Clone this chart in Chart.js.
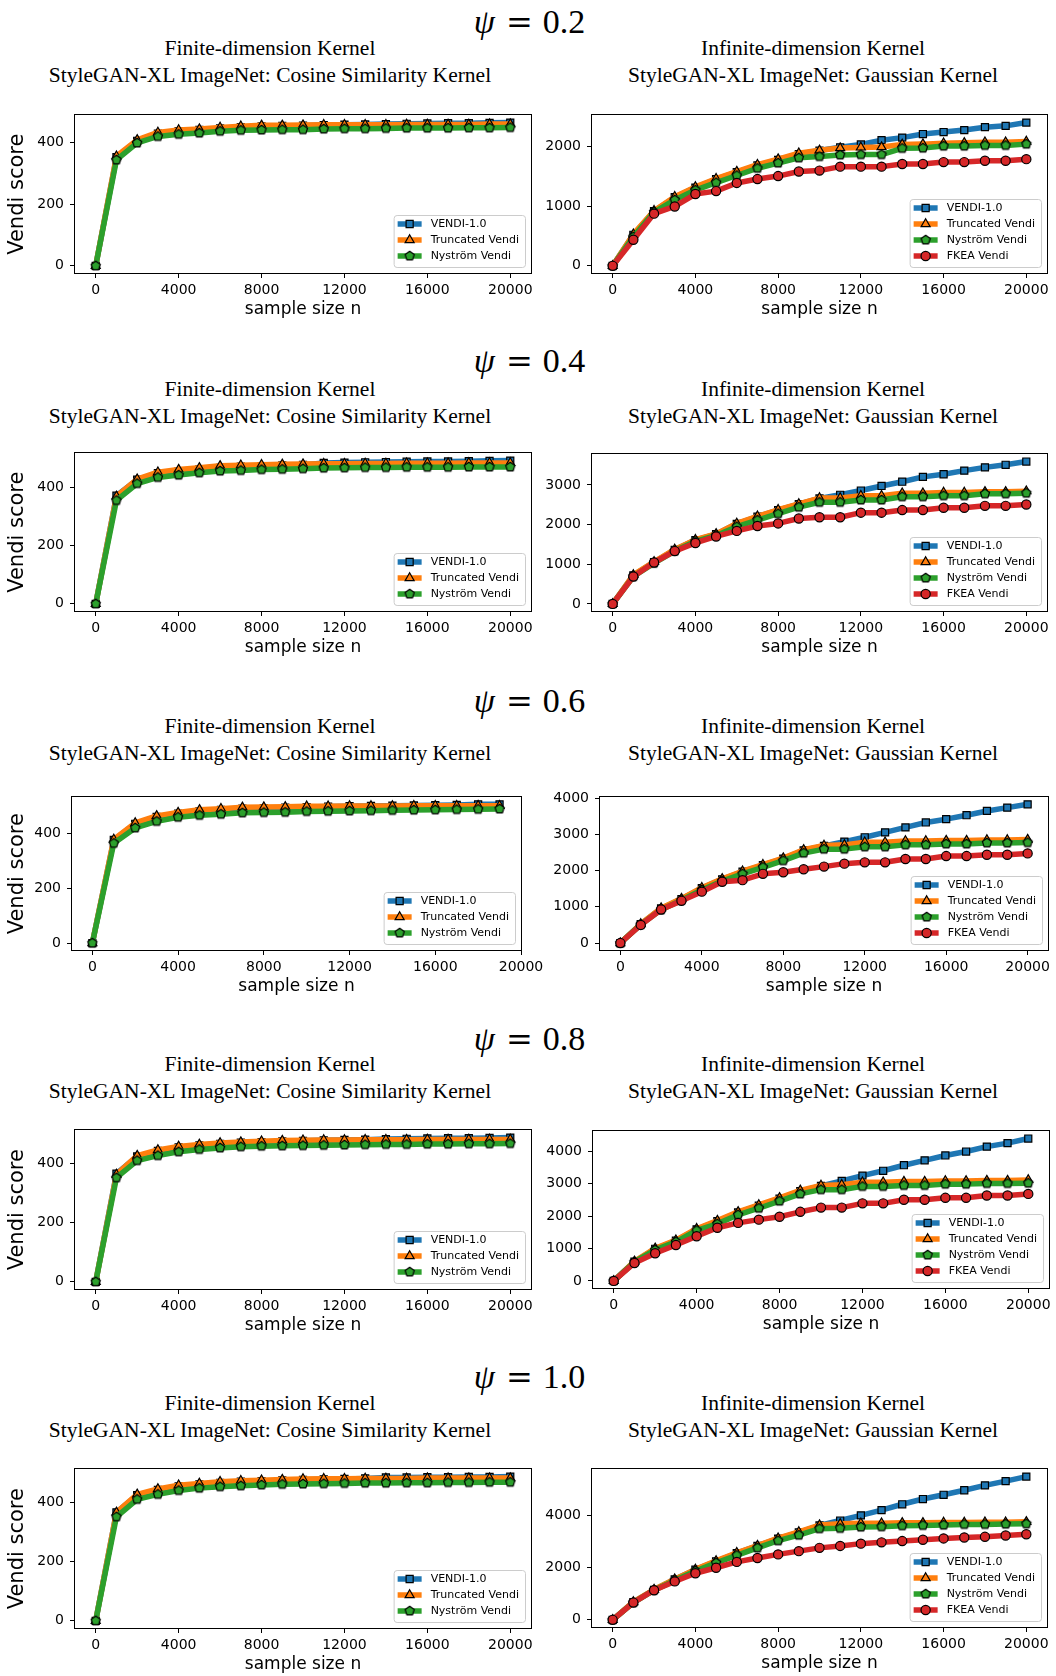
<!DOCTYPE html>
<html>
<head>
<meta charset="utf-8">
<script src="https://cdn.jsdelivr.net/npm/chart.js@4.4.1/dist/chart.umd.min.js"></script>
<style>
  body { margin: 0; background: #fff; }
  #page { position: relative; width: 1056px; height: 1676px; overflow: hidden; background: #fff; }
  #page canvas { position: absolute; }
  .psi { position: absolute; width: 400px; text-align: center; font-family: "Liberation Serif", serif; font-size: 34px; line-height: 34px; white-space: nowrap; color: #000; }
  .psi i { font-style: italic; }
  .psi .eq { font-family: "DejaVu Serif", serif; font-size: 32px; margin: 0 10px 0 11px; }
  .ttl { position: absolute; width: 600px; text-align: center; font-family: "Liberation Serif", serif; font-size: 21.5px; line-height: 27px; white-space: nowrap; color: #000; }
</style>
</head>
<body>
<div id="page"></div>
<script>
// sample sizes (x)
const sampleSizes = [0, 1000, 2000, 3000, 4000, 5000, 6000, 7000, 8000, 9000, 10000,
  11000, 12000, 13000, 14000, 15000, 16000, 17000, 18000, 19000, 20000];
const sampleSizesShort = [0, 1000, 2000, 3000, 4000, 5000, 6000, 7000, 8000, 9000, 10000,
  11000, 12000, 13000, 14000, 15000, 16000, 17000, 18000, 19000];

const seriesNames = ['VENDI-1.0', 'Truncated Vendi', 'Nyström Vendi', 'FKEA Vendi'];
const seriesColors = ['#1f77b4', '#ff7f0e', '#2ca02c', '#d62728'];
const psiValues = ['0.2', '0.4', '0.6', '0.8', '1.0'];
const cosTitle = ['Finite-dimension Kernel', 'StyleGAN-XL ImageNet: Cosine Similarity Kernel'];
const gaussTitle = ['Infinite-dimension Kernel', 'StyleGAN-XL ImageNet: Gaussian Kernel'];

// tick labels
const xTicks = [0, 4000, 8000, 12000, 16000, 20000];
const cosYTicks = [0, 200, 400];
const gaussYTicks02 = [0, 1000, 2000];
const gaussYTicks04 = [0, 1000, 2000, 3000];
const gaussYTicks06 = [0, 1000, 2000, 3000, 4000];
const gaussYTicks08 = [0, 1000, 2000, 3000, 4000];
const gaussYTicks10 = [0, 2000, 4000];

// psi = 0.2
const cosVendi02 = [0, 352, 405, 428, 436, 440, 445, 449, 452, 453, 454, 456, 457, 458, 459, 460, 461, 462, 462, 463, 464];
const cosTrunc02 = [0, 355, 408, 432, 440, 443, 448, 452, 455, 455, 456, 457, 457, 457, 457, 458, 458, 458, 458, 459, 459];
const cosNys02 = [0, 343, 398, 419, 426, 430, 436, 439, 440, 441, 441, 443, 444, 444, 445, 446, 446, 446, 447, 447, 448];
const gaussVendi02 = [0, 520, 915, 1150, 1310, 1450, 1570, 1680, 1775, 1870, 1930, 1985, 2033, 2104, 2147, 2207, 2240, 2273, 2322, 2344, 2399];
const gaussTrunc02 = [0, 530, 923, 1158, 1322, 1459, 1579, 1694, 1787, 1885, 1934, 1972, 1983, 1989, 2033, 2038, 2054, 2060, 2071, 2071, 2082];
const gaussNys02 = [0, 486, 901, 1104, 1268, 1393, 1513, 1634, 1721, 1808, 1830, 1857, 1863, 1863, 1967, 1972, 2005, 2005, 2016, 2016, 2038];
const gaussFkea02 = [0, 437, 874, 994, 1202, 1251, 1388, 1453, 1503, 1579, 1595, 1661, 1661, 1661, 1705, 1705, 1737, 1737, 1759, 1759, 1786];

// psi = 0.4
const cosVendi04 = [0, 372, 427, 450, 457, 463, 468, 472, 474, 476, 478, 485, 486, 487, 488, 489, 490, 490, 491, 492, 493];
const cosTrunc04 = [0, 370, 429, 453, 462, 468, 475, 477, 479, 480, 481, 482, 482, 483, 483, 484, 484, 484, 485, 485, 485];
const cosNys04 = [0, 356, 414, 435, 443, 451, 457, 459, 462, 463, 465, 467, 468, 469, 469, 470, 470, 470, 471, 471, 471];
const gaussVendi04 = [0, 720, 1055, 1365, 1610, 1760, 2020, 2200, 2365, 2515, 2660, 2753, 2860, 2975, 3082, 3205, 3271, 3362, 3444, 3510, 3592];
const gaussTrunc04 = [0, 731, 1060, 1373, 1619, 1767, 2030, 2211, 2375, 2523, 2671, 2671, 2729, 2729, 2794, 2794, 2811, 2811, 2827, 2827, 2844];
const gaussNys04 = [0, 690, 1027, 1332, 1578, 1726, 1948, 2112, 2277, 2441, 2564, 2564, 2622, 2622, 2704, 2704, 2729, 2729, 2778, 2778, 2794];
const gaussFkea04 = [0, 690, 1044, 1332, 1537, 1701, 1841, 1964, 2030, 2153, 2186, 2186, 2301, 2301, 2367, 2367, 2425, 2425, 2474, 2474, 2507];

// psi = 0.6 (cosine run stops at 19000)
const cosVendi06 = [0, 376, 435, 460, 472, 481, 486, 490, 492, 494, 496, 498, 499, 500, 501, 502, 503, 504, 506, 506];
const cosTrunc06 = [0, 378, 438, 464, 476, 486, 490, 495, 496, 497, 499, 499, 500, 500, 500, 501, 501, 501, 501, 501];
const cosNys06 = [0, 364, 420, 444, 459, 466, 470, 475, 476, 477, 480, 481, 482, 483, 484, 485, 486, 487, 488, 489];
const gaussVendi06 = [0, 520, 955, 1215, 1515, 1760, 1970, 2150, 2330, 2560, 2680, 2800, 2918, 3054, 3190, 3327, 3418, 3527, 3645, 3736, 3827];
const gaussTrunc06 = [0, 527, 964, 1227, 1527, 1773, 1982, 2163, 2345, 2573, 2691, 2709, 2782, 2782, 2818, 2818, 2827, 2827, 2845, 2845, 2854];
const gaussNys06 = [0, 509, 918, 1182, 1464, 1709, 1909, 2091, 2273, 2482, 2591, 2591, 2654, 2654, 2709, 2709, 2736, 2736, 2763, 2763, 2772];
const gaussFkea06 = [0, 500, 927, 1164, 1418, 1691, 1736, 1909, 1954, 2036, 2109, 2191, 2227, 2227, 2318, 2318, 2400, 2400, 2436, 2436, 2473];

// psi = 0.8
const cosVendi08 = [0, 367, 425, 444, 456, 463, 468, 472, 474, 476, 478, 480, 481, 482, 484, 485, 486, 487, 487, 488, 489];
const cosTrunc08 = [0, 364, 428, 447, 459, 466, 471, 474, 477, 479, 480, 481, 481, 482, 482, 482, 483, 483, 483, 483, 483];
const cosNys08 = [0, 353, 411, 428, 441, 449, 454, 458, 460, 461, 462, 463, 464, 465, 466, 466, 467, 467, 468, 468, 469];
const gaussVendi08 = [0, 590, 990, 1240, 1590, 1840, 2110, 2320, 2540, 2770, 2930, 3085, 3246, 3397, 3568, 3719, 3869, 3990, 4141, 4251, 4392];
const gaussTrunc08 = [0, 603, 1005, 1256, 1608, 1859, 2131, 2342, 2563, 2794, 2945, 2965, 3045, 3045, 3065, 3065, 3085, 3085, 3095, 3095, 3116];
const gaussNys08 = [0, 583, 955, 1206, 1558, 1759, 2040, 2241, 2462, 2683, 2814, 2814, 2915, 2915, 2945, 2945, 2985, 2985, 3005, 3005, 3015];
const gaussFkea08 = [0, 553, 854, 1106, 1377, 1638, 1789, 1889, 1980, 2131, 2261, 2261, 2392, 2392, 2502, 2502, 2563, 2563, 2633, 2633, 2683];

// psi = 1.0
const cosVendi10 = [0, 367, 425, 443, 455, 462, 467, 471, 473, 475, 477, 479, 480, 482, 485, 485, 486, 486, 487, 487, 488];
const cosTrunc10 = [0, 367, 428, 446, 459, 465, 471, 474, 476, 478, 480, 481, 481, 482, 482, 482, 483, 483, 483, 483, 483];
const cosNys10 = [0, 352, 411, 428, 441, 449, 454, 457, 460, 462, 463, 464, 465, 466, 466, 467, 467, 468, 468, 469, 469];
const gaussVendi10 = [0, 680, 1150, 1550, 1920, 2240, 2550, 2830, 3110, 3350, 3610, 3800, 4000, 4199, 4423, 4623, 4785, 4959, 5146, 5308, 5483];
const gaussTrunc10 = [0, 685, 1159, 1558, 1931, 2255, 2567, 2841, 3127, 3364, 3626, 3676, 3701, 3701, 3713, 3713, 3726, 3726, 3738, 3738, 3750];
const gaussNys10 = [0, 660, 1134, 1508, 1869, 2181, 2467, 2754, 3028, 3240, 3489, 3501, 3551, 3564, 3601, 3613, 3626, 3651, 3651, 3663, 3676];
const gaussFkea10 = [0, 660, 1134, 1470, 1782, 1994, 2218, 2367, 2505, 2629, 2754, 2828, 2916, 2965, 3015, 3065, 3115, 3152, 3177, 3227, 3277];

// page layout: plot rectangles [left, top, right, bottom] in page pixels
const rows = [
  { psi: psiValues[0], psiBase: 33, titleBase: 56,
    cos: { rect: [75, 113, 531, 273], xs: sampleSizes, series: [cosVendi02, cosTrunc02, cosNys02], yTicks: cosYTicks },
    gauss: { rect: [592, 113, 1047, 273], xs: sampleSizes, series: [gaussVendi02, gaussTrunc02, gaussNys02, gaussFkea02], yTicks: gaussYTicks02 } },
  { psi: psiValues[1], psiBase: 372, titleBase: 397,
    cos: { rect: [75, 451, 531, 611], xs: sampleSizes, series: [cosVendi04, cosTrunc04, cosNys04], yTicks: cosYTicks },
    gauss: { rect: [592, 452, 1047, 611], xs: sampleSizes, series: [gaussVendi04, gaussTrunc04, gaussNys04, gaussFkea04], yTicks: gaussYTicks04 } },
  { psi: psiValues[2], psiBase: 712, titleBase: 734,
    cos: { rect: [72, 795, 521, 950], xs: sampleSizesShort, xMax: 20000, series: [cosVendi06, cosTrunc06, cosNys06], yTicks: cosYTicks },
    gauss: { rect: [600, 795, 1048, 950], xs: sampleSizes, series: [gaussVendi06, gaussTrunc06, gaussNys06, gaussFkea06], yTicks: gaussYTicks06 } },
  { psi: psiValues[3], psiBase: 1050, titleBase: 1072,
    cos: { rect: [75, 1128, 531, 1289], xs: sampleSizes, series: [cosVendi08, cosTrunc08, cosNys08], yTicks: cosYTicks },
    gauss: { rect: [593, 1129, 1049, 1288], xs: sampleSizes, series: [gaussVendi08, gaussTrunc08, gaussNys08, gaussFkea08], yTicks: gaussYTicks08 } },
  { psi: psiValues[4], psiBase: 1388, titleBase: 1411,
    cos: { rect: [75, 1467, 531, 1628], xs: sampleSizes, series: [cosVendi10, cosTrunc10, cosNys10], yTicks: cosYTicks },
    gauss: { rect: [592, 1467, 1047, 1627], xs: sampleSizes, series: [gaussVendi10, gaussTrunc10, gaussNys10, gaussFkea10], yTicks: gaussYTicks10 } }
];

const page = document.getElementById('page');

function pentagon(r, fill) {
  const s = Math.ceil(2 * r + 4);
  const c = document.createElement('canvas');
  c.width = s; c.height = s;
  const g = c.getContext('2d');
  g.beginPath();
  for (let k = 0; k < 5; k++) {
    const a = -Math.PI / 2 + k * 2 * Math.PI / 5;
    const px = s / 2 + r * Math.cos(a), py = s / 2 + r * Math.sin(a);
    if (k) g.lineTo(px, py); else g.moveTo(px, py);
  }
  g.closePath();
  g.fillStyle = fill; g.fill();
  g.lineWidth = 1.2; g.strokeStyle = '#000'; g.stroke();
  return c;
}

const markerStyles = ['rect', 'triangle', pentagon(4.8, seriesColors[2]), 'circle'];
const markerRadius = [5, 5.2, 5, 4.6];

function drawMarker(ctx, i, x, y) {
  const st = markerStyles[i], r = markerRadius[i];
  ctx.save();
  ctx.fillStyle = seriesColors[i];
  ctx.strokeStyle = '#000';
  ctx.lineWidth = 1.2;
  if (st instanceof HTMLCanvasElement) {
    ctx.drawImage(st, x - st.width / 2, y - st.height / 2);
  } else {
    ctx.beginPath();
    if (st === 'rect') {
      const h = r * Math.SQRT1_2;
      ctx.rect(x - h, y - h, 2 * h, 2 * h);
    } else if (st === 'triangle') {
      for (let k = 0; k < 3; k++) {
        const a = k * 2 * Math.PI / 3;
        const px = x + Math.sin(a) * r, py = y - Math.cos(a) * r;
        if (k) ctx.lineTo(px, py); else ctx.moveTo(px, py);
      }
      ctx.closePath();
    } else {
      ctx.arc(x, y, r, 0, Math.PI * 2);
    }
    ctx.fill();
    ctx.stroke();
  }
  ctx.restore();
}

// legend drawn inside the axes, lower right, matplotlib style
const innerLegend = {
  id: 'innerLegend',
  afterDatasetsDraw(chart) {
    const ctx = chart.ctx, a = chart.chartArea;
    const ds = chart.data.datasets;
    ctx.save();
    ctx.font = '11px "DejaVu Sans"';
    const tw = Math.max(...ds.map(d => ctx.measureText(d.label).width));
    const w = 4 + 24 + 9 + tw + 6;
    const h = 9 + 16 * (ds.length - 1) + 11;
    const x0 = a.right - 6 - w, y0 = a.bottom - 6 - h;
    ctx.beginPath();
    ctx.roundRect(x0 + 0.5, y0 + 0.5, w, h, 3);
    ctx.fillStyle = 'rgba(255,255,255,0.8)';
    ctx.fill();
    ctx.strokeStyle = '#cccccc';
    ctx.lineWidth = 1;
    ctx.stroke();
    ds.forEach((d, i) => {
      const cy = y0 + 9 + 16 * i;
      ctx.beginPath();
      ctx.moveTo(x0 + 4, cy);
      ctx.lineTo(x0 + 28, cy);
      ctx.strokeStyle = seriesColors[i];
      ctx.lineWidth = 5.5;
      ctx.stroke();
      drawMarker(ctx, i, x0 + 16, cy);
      ctx.fillStyle = '#000';
      ctx.textBaseline = 'middle';
      ctx.textAlign = 'left';
      ctx.fillText(d.label, x0 + 37, cy + 0.5);
    });
    ctx.restore();
  }
};

// full box around the axes
const frame = {
  id: 'frame',
  afterDraw(chart) {
    const ctx = chart.ctx, a = chart.chartArea;
    ctx.save();
    ctx.strokeStyle = '#000';
    ctx.lineWidth = 1;
    ctx.strokeRect(Math.round(a.left) - 0.5, Math.round(a.top) - 0.5,
      Math.round(a.right - a.left) + 1, Math.round(a.bottom - a.top) + 1);
    ctx.restore();
  }
};

function makePanel(p, withYLabel) {
  const [L, T, R, B] = p.rect;
  const yW = withYLabel ? L : 70;
  const padTop = 12, padRight = 30, xH = 52;
  const cv = document.createElement('canvas');
  cv.width = yW + (R - L) + padRight;
  cv.height = padTop + (B - T) + xH;
  cv.style.left = (L - yW) + 'px';
  cv.style.top = (T - padTop) + 'px';
  page.appendChild(cv);

  const allY = p.series.flat();
  const lo = Math.min(...allY), hi = Math.max(...allY);
  const xs = p.xs;
  const xSpan = xs[xs.length - 1] - xs[0];

  const datasets = p.series.map((vals, i) => ({
    label: seriesNames[i],
    data: xs.map((n, k) => ({ x: n, y: vals[k] })),
    borderColor: seriesColors[i],
    backgroundColor: seriesColors[i],
    borderWidth: 5.5,
    borderJoinStyle: 'round',
    borderCapStyle: 'round',
    pointStyle: markerStyles[i],
    pointRadius: markerRadius[i],
    pointBackgroundColor: seriesColors[i],
    pointBorderColor: '#000',
    pointBorderWidth: 1.2,
    tension: 0,
    order: 10 - i
  }));

  const tickFont = { family: 'DejaVu Sans', size: 14 };
  new Chart(cv, {
    type: 'line',
    data: { datasets: datasets },
    plugins: [innerLegend, frame],
    options: {
      responsive: false,
      animation: false,
      devicePixelRatio: 1,
      layout: { padding: { top: padTop, right: padRight, left: 0, bottom: 0 } },
      plugins: { legend: { display: false }, tooltip: { enabled: false } },
      scales: {
        x: {
          type: 'linear',
          min: xs[0] - 0.05 * xSpan,
          max: p.xMax !== undefined ? p.xMax : xs[xs.length - 1] + 0.05 * xSpan,
          afterBuildTicks: axis => { axis.ticks = xTicks.map(v => ({ value: v })); },
          afterFit: s => { s.height = xH; },
          grid: { display: true, drawOnChartArea: false, drawTicks: true, tickLength: 5, color: '#000', lineWidth: 1 },
          border: { display: false },
          ticks: { font: tickFont, color: '#000', padding: 4, autoSkip: false, maxRotation: 0, callback: v => String(v) },
          title: { display: true, text: 'sample size n', color: '#000',
            font: { family: 'DejaVu Sans', size: 17 }, padding: { top: 0, bottom: 5 } }
        },
        y: {
          type: 'linear',
          min: lo - 0.05 * (hi - lo),
          max: hi + 0.05 * (hi - lo),
          afterBuildTicks: axis => { axis.ticks = p.yTicks.map(v => ({ value: v })); },
          afterFit: s => { s.width = yW; },
          grid: { display: true, drawOnChartArea: false, drawTicks: true, tickLength: 5, color: '#000', lineWidth: 1 },
          border: { display: false },
          ticks: { font: tickFont, color: '#000', padding: 6, callback: v => String(v) },
          title: { display: withYLabel, text: 'Vendi score', color: '#000',
            font: { family: 'DejaVu Sans', size: 21 }, padding: { top: 5, bottom: 0 } }
        }
      }
    }
  });
}

function addText(cls, html, centerX, top) {
  const d = document.createElement('div');
  d.className = cls;
  d.innerHTML = html;
  const w = cls === 'psi' ? 400 : 600;
  d.style.left = (centerX - w / 2) + 'px';
  d.style.top = top + 'px';
  page.appendChild(d);
}

rows.forEach(r => {
  addText('psi', '<i>ψ</i><span class="eq">=</span>' + r.psi, 529.5, r.psiBase - 28.5);
  addText('ttl', cosTitle.join('<br>'), 270, r.titleBase - 20.8);
  addText('ttl', gaussTitle.join('<br>'), 813, r.titleBase - 20.8);
  makePanel(r.cos, true);
  makePanel(r.gauss, false);
});
</script>
</body>
</html>
